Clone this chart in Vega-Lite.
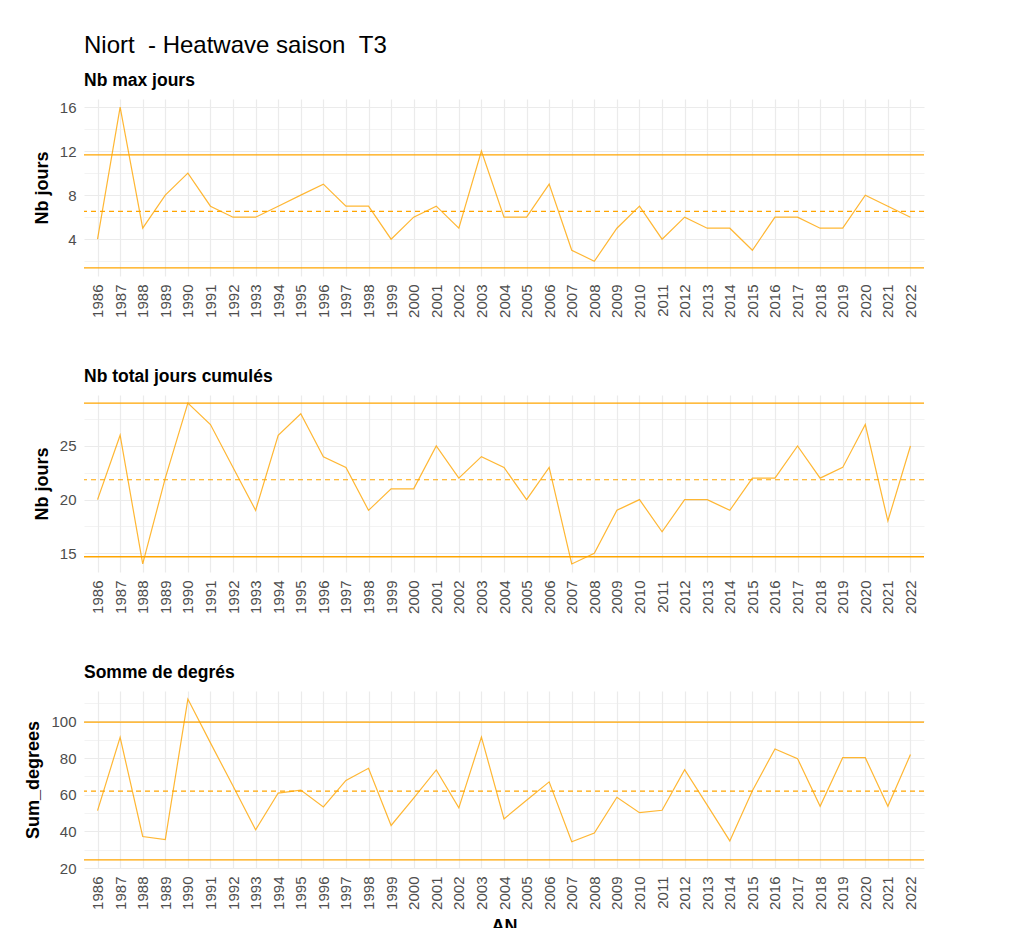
{
  "$schema": "https://vega.github.io/schema/vega-lite/v6.json",
  "background": "white",
  "padding": {"left": 24, "top": 33, "right": 10, "bottom": 0},
  "title": {"text": "Niort \u00a0- Heatwave saison \u00a0T3", "anchor": "start", "fontSize": 24, "fontWeight": "normal", "font": "Liberation Sans", "color": "black", "offset": 14},
  "spacing": 49,
  "datasets": {
    "main": [
      {"AN": "1986", "nb_max": 4, "nb_total": 20, "sum_deg": 51.3},
      {"AN": "1987", "nb_max": 16, "nb_total": 26, "sum_deg": 91.3},
      {"AN": "1988", "nb_max": 5, "nb_total": 14, "sum_deg": 37.2},
      {"AN": "1989", "nb_max": 8, "nb_total": 22, "sum_deg": 35.5},
      {"AN": "1990", "nb_max": 10, "nb_total": 29, "sum_deg": 112.2},
      {"AN": "1991", "nb_max": 7, "nb_total": 27, "sum_deg": 88.3},
      {"AN": "1992", "nb_max": 6, "nb_total": 23, "sum_deg": 64.7},
      {"AN": "1993", "nb_max": 6, "nb_total": 19, "sum_deg": 40.8},
      {"AN": "1994", "nb_max": 7, "nb_total": 26, "sum_deg": 60.9},
      {"AN": "1995", "nb_max": 8, "nb_total": 28, "sum_deg": 62.5},
      {"AN": "1996", "nb_max": 9, "nb_total": 24, "sum_deg": 53.3},
      {"AN": "1997", "nb_max": 7, "nb_total": 23, "sum_deg": 67.8},
      {"AN": "1998", "nb_max": 7, "nb_total": 19, "sum_deg": 74.4},
      {"AN": "1999", "nb_max": 4, "nb_total": 21, "sum_deg": 43.2},
      {"AN": "2000", "nb_max": 6, "nb_total": 21, "sum_deg": 58.2},
      {"AN": "2001", "nb_max": 7, "nb_total": 25, "sum_deg": 73.5},
      {"AN": "2002", "nb_max": 5, "nb_total": 22, "sum_deg": 52.8},
      {"AN": "2003", "nb_max": 12, "nb_total": 24, "sum_deg": 91.5},
      {"AN": "2004", "nb_max": 6, "nb_total": 23, "sum_deg": 46.8},
      {"AN": "2005", "nb_max": 6, "nb_total": 20, "sum_deg": 57.0},
      {"AN": "2006", "nb_max": 9, "nb_total": 23, "sum_deg": 67.0},
      {"AN": "2007", "nb_max": 3, "nb_total": 14, "sum_deg": 34.3},
      {"AN": "2008", "nb_max": 2, "nb_total": 15, "sum_deg": 39.1},
      {"AN": "2009", "nb_max": 5, "nb_total": 19, "sum_deg": 58.6},
      {"AN": "2010", "nb_max": 7, "nb_total": 20, "sum_deg": 50.2},
      {"AN": "2011", "nb_max": 4, "nb_total": 17, "sum_deg": 51.5},
      {"AN": "2012", "nb_max": 6, "nb_total": 20, "sum_deg": 73.7},
      {"AN": "2013", "nb_max": 5, "nb_total": 20, "sum_deg": 54.3},
      {"AN": "2014", "nb_max": 5, "nb_total": 19, "sum_deg": 34.8},
      {"AN": "2015", "nb_max": 3, "nb_total": 22, "sum_deg": 62.2},
      {"AN": "2016", "nb_max": 6, "nb_total": 22, "sum_deg": 85.0},
      {"AN": "2017", "nb_max": 6, "nb_total": 25, "sum_deg": 79.7},
      {"AN": "2018", "nb_max": 5, "nb_total": 22, "sum_deg": 53.7},
      {"AN": "2019", "nb_max": 5, "nb_total": 23, "sum_deg": 80.2},
      {"AN": "2020", "nb_max": 8, "nb_total": 27, "sum_deg": 80.2},
      {"AN": "2021", "nb_max": 7, "nb_total": 18, "sum_deg": 53.7},
      {"AN": "2022", "nb_max": 6, "nb_total": 25, "sum_deg": 81.9}
    ],
    "refs": [
      {"panel": "nb_max", "kind": "upper", "value": 11.65},
      {"panel": "nb_max", "kind": "lower", "value": 1.39},
      {"panel": "nb_max", "kind": "mean", "value": 6.52},
      {"panel": "nb_total", "kind": "upper", "value": 29.0},
      {"panel": "nb_total", "kind": "lower", "value": 14.67},
      {"panel": "nb_total", "kind": "mean", "value": 21.85},
      {"panel": "sum_deg", "kind": "upper", "value": 99.6},
      {"panel": "sum_deg", "kind": "lower", "value": 24.4},
      {"panel": "sum_deg", "kind": "mean", "value": 62.0}
    ]
  },
  "vconcat": [
    {
      "title": {"text": "Nb max jours"},
      "width": 840, "height": 177,
      "layer": [
        {
          "data": {"name": "main"},
          "mark": {"type": "line", "color": "#FFA500", "strokeWidth": 1.2, "opacity": 0.8},
          "encoding": {
            "x": {"field": "AN", "type": "ordinal", "scale": {"type": "point", "padding": 0.6}, "axis": {"title": null, "labelAngle": -90, "grid": true}},
            "y": {"field": "nb_max", "type": "quantitative", "scale": {"domain": [0.66, 16.73], "nice": false, "zero": false},
                  "axis": {"title": "Nb jours", "values": [2, 4, 6, 8, 10, 12, 14, 16], "tickCount": 30, "format": "d", "labelOverlap": false,
                           "labelExpr": "datum.value % 4 == 0 ? datum.label : ''",
                           "gridWidth": {"condition": {"test": "datum.value % 4 == 0", "value": 1.2}, "value": 0.6}}}
          }
        },
        {
          "data": {"name": "refs"},
          "transform": [{"filter": "datum.panel == 'nb_max' && datum.kind != 'mean'"}],
          "mark": {"type": "rule", "color": "#FFA500", "strokeWidth": 1.3},
          "encoding": {"y": {"field": "value", "type": "quantitative"}}
        },
        {
          "data": {"name": "refs"},
          "transform": [{"filter": "datum.panel == 'nb_max' && datum.kind == 'mean'"}],
          "mark": {"type": "rule", "color": "#FFA500", "strokeWidth": 1.2, "strokeDash": [5, 4]},
          "encoding": {"y": {"field": "value", "type": "quantitative"}}
        }
      ]
    },
    {
      "title": {"text": "Nb total jours cumulés"},
      "width": 840, "height": 177,
      "layer": [
        {
          "data": {"name": "main"},
          "mark": {"type": "line", "color": "#FFA500", "strokeWidth": 1.2, "opacity": 0.8},
          "encoding": {
            "x": {"field": "AN", "type": "ordinal", "scale": {"type": "point", "padding": 0.6}, "axis": {"title": null, "labelAngle": -90, "grid": true}},
            "y": {"field": "nb_total", "type": "quantitative", "scale": {"domain": [13.25, 29.75], "nice": false, "zero": false},
                  "axis": {"title": "Nb jours", "values": [15, 17.5, 20, 22.5, 25, 27.5], "tickCount": 30, "format": "d", "labelOverlap": false,
                           "labelExpr": "datum.value % 5 == 0 ? datum.label : ''",
                           "gridWidth": {"condition": {"test": "datum.value % 5 == 0", "value": 1.2}, "value": 0.6}}}
          }
        },
        {
          "data": {"name": "refs"},
          "transform": [{"filter": "datum.panel == 'nb_total' && datum.kind != 'mean'"}],
          "mark": {"type": "rule", "color": "#FFA500", "strokeWidth": 1.3},
          "encoding": {"y": {"field": "value", "type": "quantitative"}}
        },
        {
          "data": {"name": "refs"},
          "transform": [{"filter": "datum.panel == 'nb_total' && datum.kind == 'mean'"}],
          "mark": {"type": "rule", "color": "#FFA500", "strokeWidth": 1.2, "strokeDash": [5, 4]},
          "encoding": {"y": {"field": "value", "type": "quantitative"}}
        }
      ]
    },
    {
      "title": {"text": "Somme de degrés"},
      "width": 840, "height": 177,
      "layer": [
        {
          "data": {"name": "main"},
          "mark": {"type": "line", "color": "#FFA500", "strokeWidth": 1.2, "opacity": 0.8},
          "encoding": {
            "x": {"field": "AN", "type": "ordinal", "scale": {"type": "point", "padding": 0.6}, "axis": {"title": "AN", "labelAngle": -90, "grid": true}},
            "y": {"field": "sum_deg", "type": "quantitative", "scale": {"domain": [20.0, 116.6], "nice": false, "zero": false},
                  "axis": {"title": "Sum_degrees", "values": [20, 30, 40, 50, 60, 70, 80, 90, 100, 110], "tickCount": 30, "format": "d", "labelOverlap": false,
                           "labelExpr": "datum.value % 20 == 0 ? datum.label : ''",
                           "gridWidth": {"condition": {"test": "datum.value % 20 == 0", "value": 1.2}, "value": 0.6}}}
          }
        },
        {
          "data": {"name": "refs"},
          "transform": [{"filter": "datum.panel == 'sum_deg' && datum.kind != 'mean'"}],
          "mark": {"type": "rule", "color": "#FFA500", "strokeWidth": 1.3},
          "encoding": {"y": {"field": "value", "type": "quantitative"}}
        },
        {
          "data": {"name": "refs"},
          "transform": [{"filter": "datum.panel == 'sum_deg' && datum.kind == 'mean'"}],
          "mark": {"type": "rule", "color": "#FFA500", "strokeWidth": 1.2, "strokeDash": [5, 4]},
          "encoding": {"y": {"field": "value", "type": "quantitative"}}
        }
      ]
    }
  ],
  "config": {
    "font": "Liberation Sans",
    "view": {"stroke": null},
    "axis": {"domain": false, "ticks": false, "tickSize": 0, "labelOverlap": false, "labelFont": "Liberation Sans", "labelFontSize": 15, "labelColor": "#4D4D4D", "labelPadding": 8,
             "titleFont": "Liberation Sans", "titleFontSize": 18, "titleFontWeight": "bold", "titleColor": "black", "titlePadding": 8,
             "gridColor": "#EBEBEB", "gridWidth": 1.2},
    "title": {"anchor": "start", "frame": "group", "font": "Liberation Sans", "fontSize": 17.5, "fontWeight": "bold", "color": "black", "offset": 10}
  }
}
